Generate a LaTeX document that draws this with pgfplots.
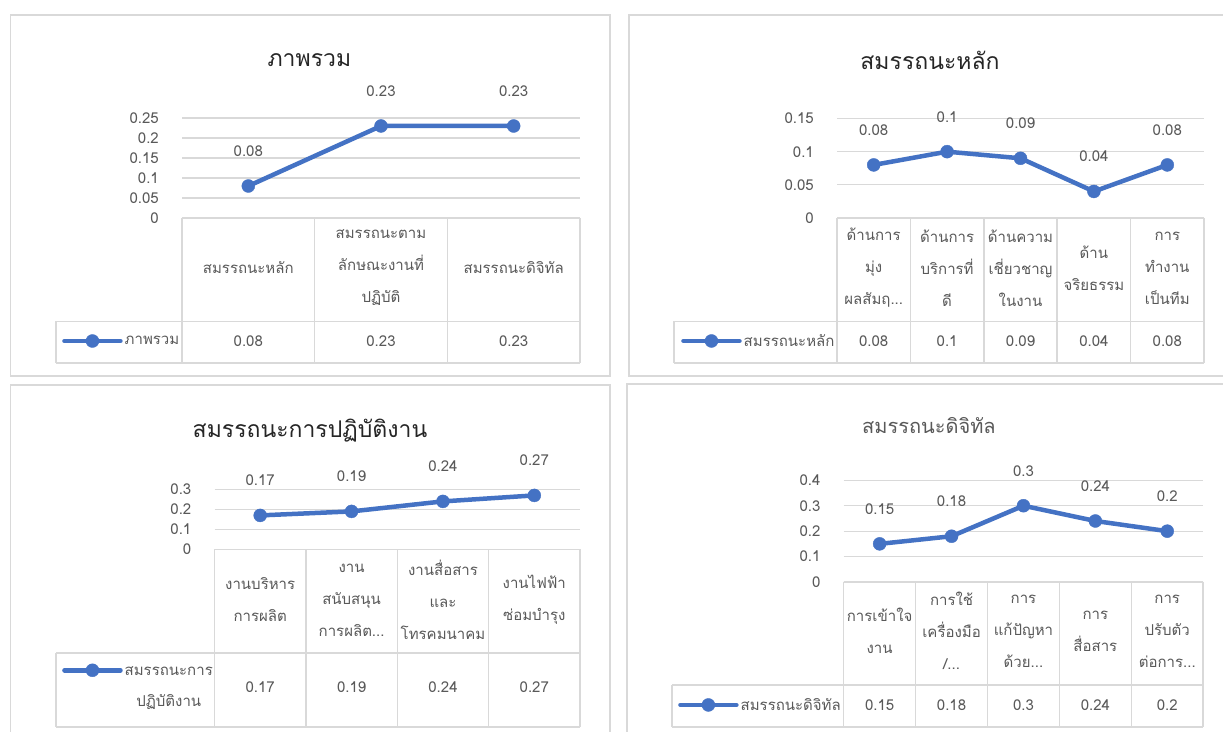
\documentclass[border=0pt]{standalone}
\usepackage{fontspec}
\setmainfont[Script=Thai]{Loma}
\usepackage{pgfplots}
\pgfplotsset{compat=1.18}

\definecolor{serie}{HTML}{4472C4}
\definecolor{rule}{HTML}{D9D9D9}
\definecolor{txt}{HTML}{595959}
\definecolor{ttl}{HTML}{262626}

\newcommand\cellfont{\fontsize{15}{32}\selectfont}
\newcommand\tickfont{\fontsize{15}{18}\selectfont}
\newcommand\titlefont{\fontsize{23}{28}\selectfont}

\pgfkeys{/pgf/number format/assume math mode=true}

\pgfplotsset{
  panel/.style={
    scale only axis, anchor=south west, clip=false,
    xmin=0.5, xmax=#1+0.5, ymin=0,
    axis line style={draw=none}, major tick length=0pt, xtick=\empty,
    ymajorgrids, grid style={rule, line width=1.3pt},
    scaled y ticks=false,
    yticklabel style={/pgf/number format/fixed, /pgf/number format/precision=2,
      /pgf/number format/assume math mode=true,
      anchor=east, inner sep=0pt, xshift=-23pt, font=\tickfont, text=txt},
    nodes near coords,
    every node near coord/.append style={anchor=center, yshift=35pt,
      font=\tickfont, text=txt, /pgf/number format/fixed,
      /pgf/number format/precision=2, /pgf/number format/assume math mode=true},
    legend style={draw=none, fill=none, inner sep=0pt, font=\tickfont,
      text=txt, legend cell align=left, column sep=1pt, nodes={inner sep=1pt}},
    legend image code/.code={\draw[mark repeat=2, mark phase=2, ##1]
      plot coordinates {(0pt,0pt) (28pt,0pt) (56pt,0pt)};},
  },
  serie/.style={color=serie, line width=4.5pt, line join=round, line cap=round,
    mark=*, mark size=6.5pt, mark options={solid, line width=0.4pt}},
}

% data-table grid: legend-cell left, first column x, column width, columns,
% header top, header bottom, data-row bottom (all measured downwards)
\newcommand\tablegrid[7]{%
  \draw[rule, line width=1.5pt] (#2,731-#5) -- ({#2+#3*#4},731-#5);
  \draw[rule, line width=1.5pt] (#1,731-#6) -- ({#2+#3*#4},731-#6);
  \draw[rule, line width=1.5pt] (#1,731-#7) -- ({#2+#3*#4},731-#7);
  \draw[rule, line width=1.5pt] (#1,731-#6) -- (#1,731-#7);
  \foreach \k in {0,...,#4}
    \draw[rule, line width=1.5pt] ({#2+#3*\k},731-#5) -- ({#2+#3*\k},731-#7);
}
\tikzset{
  cell/.style={font=\cellfont, text=txt, align=center, inner sep=0pt},
  val/.style={font=\tickfont, text=txt, inner sep=0pt},
}

\begin{document}
\begin{tikzpicture}
\useasboundingbox (0pt,0pt) rectangle (1223pt,731pt);
\fill[white] (0pt,0pt) rectangle (1223pt,731pt);

\begin{scope}[x=1pt,y=1pt]
% panel frames
\draw[rule, line width=1.5pt] (10.6,731-15) rectangle (610,731-376);
\draw[rule, line width=1.5pt] (629,731-15) rectangle (1240,731-376);
\draw[rule, line width=1.5pt] (10.6,731-385) rectangle (610,-20);
\draw[rule, line width=1.5pt] (627,731-384) rectangle (1240,-20);
% titles
\node[font=\titlefont, text=ttl] at (309.4,731-60.6) {ภาพรวม};
\node[font=\titlefont, text=ttl] at (930,731-60.6) {สมรรถนะหลัก};
\node[font=\titlefont, text=ttl] at (310,731-430.5) {สมรรถนะการปฏิบัติงาน};
\node[font=\fontsize{20}{24}\selectfont, text=txt] at (929,731-425.5) {สมรรถนะดิจิทัล};

% ---------- data tables ----------
\tablegrid{56}{182}{132.67}{3}{218}{321.5}{363}
\node[cell] at (248.3,731-268) {สมรรถนะหลัก};
\node[cell] at (381,731-268) {สมรรถนะตาม\\ลักษณะงานที่\\ปฏิบัติ};
\node[cell] at (513.7,731-268) {สมรรถนะดิจิทัล};
\node[val] at (248.3,731-341) {0.08};
\node[val] at (381,731-341) {0.23};
\node[val] at (513.7,731-341) {0.23};

\tablegrid{674}{837}{73.4}{5}{218}{321.5}{363}
\node[cell] at (873.7,731-268) {ด้านการ\\มุ่ง\\ผลสัมฤ...};
\node[cell] at (947.1,731-268) {ด้านการ\\บริการที่\\ดี};
\node[cell] at (1020.5,731-268) {ด้านความ\\เชี่ยวชาญ\\ในงาน};
\node[cell] at (1093.9,731-268) {ด้าน\\จริยธรรม};
\node[cell] at (1167.3,731-268) {การ\\ทำงาน\\เป็นทีม};
\node[val] at (873.7,731-341) {0.08};
\node[val] at (947.1,731-341) {0.1};
\node[val] at (1020.5,731-341) {0.09};
\node[val] at (1093.9,731-341) {0.04};
\node[val] at (1167.3,731-341) {0.08};

\tablegrid{56}{214.5}{91.375}{4}{549.4}{653}{727}
\node[cell] at (260.2,731-600) {งานบริหาร\\การผลิต};
\node[cell] at (351.6,731-600) {งาน\\สนับสนุน\\การผลิต...};
\node[cell] at (443,731-600) {งานสื่อสาร\\และ\\โทรคมนาคม};
\node[cell] at (534.3,731-600) {งานไฟฟ้า\\ซ่อมบำรุง};
\node[val] at (260.2,731-687) {0.17};
\node[val] at (351.6,731-687) {0.19};
\node[val] at (443,731-687) {0.24};
\node[val] at (534.3,731-687) {0.27};

\tablegrid{672}{843.7}{71.9}{5}{582}{685}{727}
\node[cell] at (879.65,731-631) {การเข้าใจ\\งาน};
\node[cell] at (951.55,731-631) {การใช้\\เครื่องมือ\\/...};
\node[cell] at (1023.45,731-631) {การ\\แก้ปัญหา\\ด้วย...};
\node[cell] at (1095.35,731-631) {การ\\สื่อสาร};
\node[cell] at (1167.25,731-631) {การ\\ปรับตัว\\ต่อการ...};
\node[val] at (879.65,731-705) {0.15};
\node[val] at (951.55,731-705) {0.18};
\node[val] at (1023.45,731-705) {0.3};
\node[val] at (1095.35,731-705) {0.24};
\node[val] at (1167.25,731-705) {0.2};
\end{scope}

% ---------- ภาพรวม ----------
\begin{axis}[panel=3, at={(182pt,513pt)}, width=398pt, height=100pt,
  ymax=0.25, ytick={0,0.05,0.1,0.15,0.2,0.25},
  legend style={at={(axis description cs:-0.3015,-1.23)}, anchor=west}]
\addplot[serie] coordinates {(1,0.08) (2,0.23) (3,0.23)};
\addlegendentry{ภาพรวม}
\end{axis}

% ---------- สมรรถนะหลัก ----------
\begin{axis}[panel=5, at={(837pt,513pt)}, width=367pt, height=99.5pt,
  ymax=0.15, ytick={0,0.05,0.1,0.15},
  legend style={at={(axis description cs:-0.425,-1.236)}, anchor=west}]
\addplot[serie] coordinates {(1,0.08) (2,0.1) (3,0.09) (4,0.04) (5,0.08)};
\addlegendentry{สมรรถนะหลัก}
\end{axis}

% ---------- สมรรถนะการปฏิบัติงาน ----------
\begin{axis}[panel=4, at={(214.5pt,181.6pt)}, width=365.5pt, height=60pt,
  ymax=0.3, ytick={0,0.1,0.2,0.3},
  legend style={at={(axis description cs:-0.4172,-1.877)}, anchor=north west}]
\addplot[serie] coordinates {(1,0.17) (2,0.19) (3,0.24) (4,0.27)};
\addlegendentry{\begin{tabular}[t]{@{}c@{}}สมรรถนะการ\\[13pt]ปฏิบัติงาน\end{tabular}}
\end{axis}

% ---------- สมรรถนะดิจิทัล ----------
\begin{axis}[panel=5, at={(843.7pt,149pt)}, width=359.5pt, height=101.7pt,
  ymax=0.4, ytick={0,0.1,0.2,0.3,0.4},
  legend style={at={(axis description cs:-0.461,-1.209)}, anchor=west}]
\addplot[serie] coordinates {(1,0.15) (2,0.18) (3,0.3) (4,0.24) (5,0.2)};
\addlegendentry{สมรรถนะดิจิทัล}
\end{axis}
\end{tikzpicture}
\end{document}
